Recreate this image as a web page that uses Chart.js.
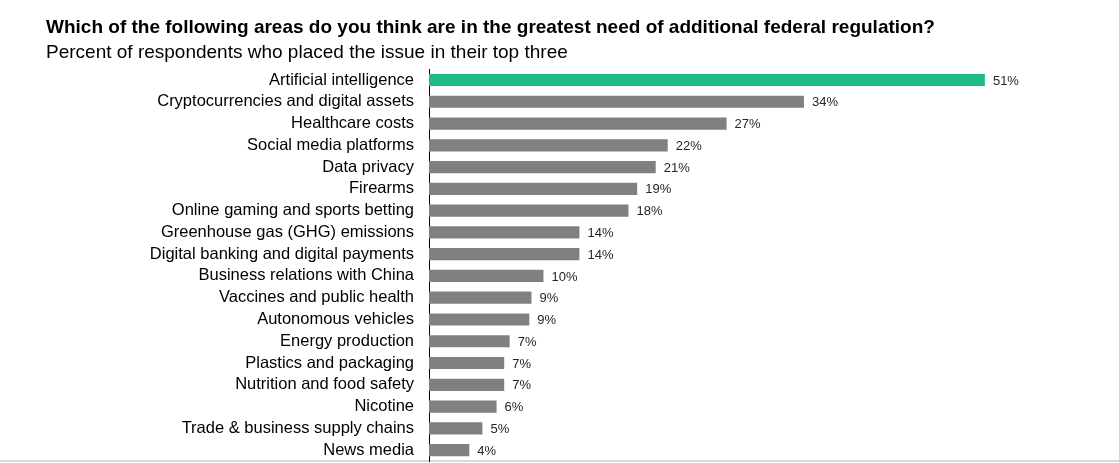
<!DOCTYPE html>
<html>
<head>
<meta charset="utf-8">
<script src="https://cdn.jsdelivr.net/npm/chart.js@4.4.1/dist/chart.umd.min.js"></script>
<style>
  html, body { margin: 0; padding: 0; background: #fff; }
  #wrap { position: relative; width: 1119px; height: 463px; overflow: hidden; }
  #baseLine { position: absolute; left: 0; top: 460px; width: 1119px; height: 2px; background: #d9d9d9; }
  canvas { position: absolute; left: 0; top: 0; }
</style>
</head>
<body>
<div id="wrap">
  <div id="baseLine"></div>
  <canvas id="regChart" width="1119" height="463"></canvas>
</div>
<script>
// Federal regulation survey - horizontal bar chart

const categories = [
  "Artificial intelligence",
  "Cryptocurrencies and digital assets",
  "Healthcare costs",
  "Social media platforms",
  "Data privacy",
  "Firearms",
  "Online gaming and sports betting",
  "Greenhouse gas (GHG) emissions",
  "Digital banking and digital payments",
  "Business relations with China",
  "Vaccines and public health",
  "Autonomous vehicles",
  "Energy production",
  "Plastics and packaging",
  "Nutrition and food safety",
  "Nicotine",
  "Trade & business supply chains",
  "News media"
];

// bar lengths (percent)
const shareValues = [51, 34.4, 27.3, 21.9, 20.8, 19.1, 18.3, 13.8, 13.8, 10.5, 9.4, 9.2, 7.4, 6.9, 6.9, 6.2, 4.9, 3.7];

// printed labels
const shareLabels = ["51%", "34%", "27%", "22%", "21%", "19%", "18%", "14%", "14%", "10%", "9%", "9%", "7%", "7%", "7%", "6%", "5%", "4%"];

const highlightColor = "#1fbd85";
const barColor = "#808080";
const fontFamily = "'Liberation Sans', Arial, sans-serif";

// draws the value text just past the end of each bar
const valueLabels = {
  id: "valueLabels",
  afterDatasetsDraw(chart) {
    const ctx = chart.ctx;
    const meta = chart.getDatasetMeta(0);
    ctx.save();
    ctx.font = "13px " + fontFamily;
    ctx.fillStyle = "#262626";
    ctx.textAlign = "left";
    ctx.textBaseline = "middle";
    meta.data.forEach((bar, i) => {
      ctx.fillText(shareLabels[i], bar.x + 8, bar.y + 1);
    });
    ctx.restore();
  }
};

const ctx = document.getElementById("regChart").getContext("2d");
new Chart(ctx, {
  type: "bar",
  data: {
    labels: categories,
    datasets: [{
      data: shareValues,
      backgroundColor: categories.map((c, i) => i === 0 ? highlightColor : barColor),
      borderWidth: 0,
      barPercentage: 0.56,
      categoryPercentage: 1
    }]
  },
  options: {
    indexAxis: "y",
    responsive: false,
    animation: false,
    layout: { padding: { left: 46, right: 36, top: 0, bottom: 2 } },
    plugins: {
      legend: { display: false },
      tooltip: { enabled: false },
      title: {
        display: true,
        align: "start",
        text: "Which of the following areas do you think are in the greatest need of additional federal regulation?",
        color: "#000",
        font: { family: fontFamily, size: 19, weight: "bold", lineHeight: 0.95 },
        padding: { top: 18.5, bottom: 7.5 }
      },
      subtitle: {
        display: true,
        align: "start",
        text: "Percent of respondents who placed the issue in their top three",
        color: "#000",
        font: { family: fontFamily, size: 19, lineHeight: 0.95 },
        padding: { top: 0, bottom: 7 }
      }
    },
    scales: {
      x: {
        display: false,
        min: 0,
        max: 60
      },
      y: {
        grid: { display: false, drawTicks: false },
        border: { display: true, color: "#000", width: 1 },
        ticks: {
          color: "#000",
          padding: 15,
          autoSkip: false,
          font: { family: fontFamily, size: 16.5 }
        },
        afterFit(scale) {
          // fixed label column, and no extra space above/below the bars
          scale.width = 383;
          scale.paddingTop = 0;
          scale.paddingBottom = 0;
        }
      }
    }
  },
  plugins: [valueLabels]
});
</script>
</body>
</html>
